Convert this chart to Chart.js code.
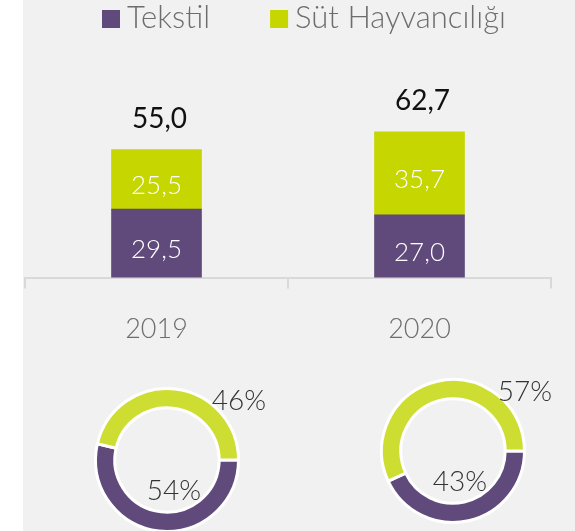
<!DOCTYPE html>
<html>
<head>
<meta charset="utf-8">
<script src="https://cdn.jsdelivr.net/npm/chart.js@4"></script>
<style>
  html, body { margin: 0; padding: 0; background: #fff; overflow: hidden; }
  #fondo { position: absolute; left: 23px; top: 0; width: 552px; height: 531px; background: #f1f1f1; }
  canvas { position: absolute; }
</style>
</head>
<body>
<div id="fondo"></div>
<canvas id="barChart" style="left:0;top:0" width="575" height="379"></canvas>
<canvas id="torta2019" style="left:67px;top:360px" width="200" height="175"></canvas>
<canvas id="torta2020" style="left:353px;top:360px" width="200" height="175"></canvas>
<script>
// dati
const anni = ["2019", "2020"];
const serie = ["Tekstil", "Süt Hayvancılığı"];
const tekstil = [29.5, 27.0];
const sut = [25.5, 35.7];

const VIOLA = "#5f4a7b";
const VERDE = "#c5d600";
const VERDE_CHIARO = "#cedd31";
const FONT = "Lato";

const virgola = v => v.toFixed(1).replace(".", ",");

// etichette dentro le barre + totale sopra
const etichette = {
    id: "etichette",
    afterDatasetsDraw(chart) {
        const ctx = chart.ctx;
        const y = chart.scales.y;
        ctx.save();
        ctx.textAlign = "center";
        ctx.textBaseline = "alphabetic";
        chart.data.labels.forEach((_, i) => {
            let base = 0;
            let x = 0;
            chart.data.datasets.forEach((ds, d) => {
                const bar = chart.getDatasetMeta(d).data[i];
                x = bar.x;
                const v = ds.data[i];
                const mid = y.getPixelForValue(base + v / 2);
                ctx.fillStyle = "#fff";
                ctx.font = "300 26px " + FONT;
                ctx.fillText(virgola(v), x, mid + 15);
                base += v;
            });
            ctx.fillStyle = "#111";
            ctx.font = "400 28px " + FONT;
            ctx.fillText(virgola(base), x + 3, y.getPixelForValue(base) - 22);
        });
        ctx.restore();
    }
};

// legenda disegnata a mano (spazi piu stretti di quella di chart.js)
const legenda = {
    id: "legenda",
    afterDraw(chart) {
        const ctx = chart.ctx;
        ctx.save();
        ctx.font = "300 31px " + FONT;
        ctx.textBaseline = "alphabetic";
        let x = 102;
        chart.data.datasets.forEach(ds => {
            ctx.fillStyle = ds.backgroundColor;
            ctx.fillRect(x, 10, 18, 18);
            ctx.fillStyle = "#6d6d6d";
            ctx.fillText(ds.label, x + 25, 28);
            x += 25 + ctx.measureText(ds.label).width + 60;
        });
        ctx.restore();
    }
};

new Chart(document.getElementById("barChart").getContext("2d"), {
    type: "bar",
    data: {
        labels: anni,
        datasets: [
            { label: serie[0], data: tekstil, backgroundColor: VIOLA, barThickness: 90 },
            { label: serie[1], data: sut, backgroundColor: VERDE, barThickness: 90 }
        ]
    },
    options: {
        responsive: false,
        animation: false,
        layout: { padding: { left: 25, right: 24, top: 45, bottom: 10 } },
        plugins: { legend: { display: false }, tooltip: { enabled: false } },
        scales: {
            x: {
                stacked: true,
                grid: { offset: true, drawOnChartArea: false, tickLength: 11, color: "#d9d9d9", lineWidth: 2 },
                border: { color: "#d9d9d9", width: 2 },
                ticks: { color: "#6e6e6e", font: { family: FONT, size: 27, weight: 300 }, padding: 24 }
            },
            y: { stacked: true, display: false, min: 0, max: 100 }
        }
    },
    plugins: [etichette, legenda]
});

// percentuali delle ciambelle
const percentuali = {
    id: "percentuali",
    afterDraw(chart) {
        const ctx = chart.ctx;
        const a = chart.chartArea;
        const cx = (a.left + a.right) / 2;
        const cy = (a.top + a.bottom) / 2;
        const valori = chart.data.datasets[0].data;
        const tot = valori.reduce((s, v) => s + v, 0);
        const pct = valori.map(v => Math.round(v / tot * 100) + "%");
        ctx.save();
        ctx.font = "300 28px " + FONT;
        ctx.fillStyle = "#333";
        ctx.textAlign = "center";
        ctx.textBaseline = "alphabetic";
        ctx.fillText(pct[0], cx + 7, cy + 40);
        ctx.fillText(pct[1], cx + 72, cy - 50);
        ctx.restore();
    }
};

function ciambella(id, i, padding) {
    new Chart(document.getElementById(id).getContext("2d"), {
        type: "doughnut",
        data: {
            labels: serie,
            datasets: [{
                data: [tekstil[i], sut[i]],
                backgroundColor: [VIOLA, VERDE_CHIARO],
                borderColor: "#fff",
                borderWidth: 3
            }]
        },
        options: {
            responsive: false,
            animation: false,
            rotation: 90,
            cutout: "73%",
            layout: { padding: padding },
            plugins: { legend: { display: false }, tooltip: { enabled: false } }
        },
        plugins: [percentuali]
    });
}

ciambella("torta2019", 0, { left: 27, right: 27, top: 27, bottom: 2 });
ciambella("torta2020", 1, { left: 27, right: 27, top: 18, bottom: 11 });
</script>
</body>
</html>
